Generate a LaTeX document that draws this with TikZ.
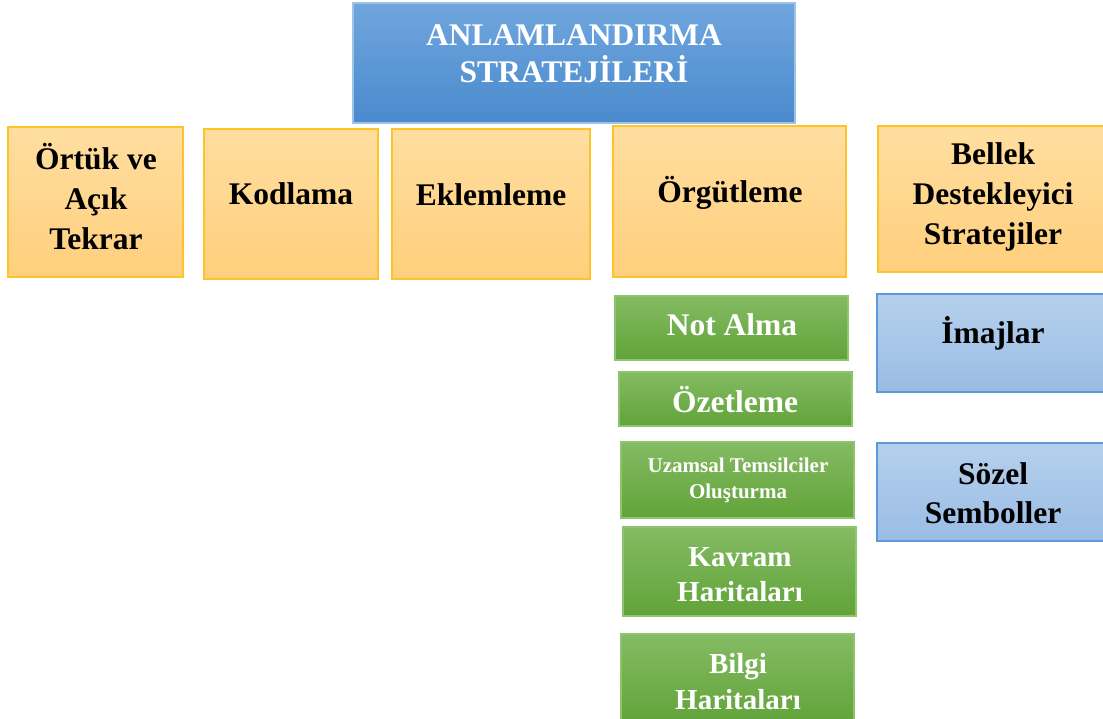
\documentclass[tikz,border=0pt]{standalone}
\usepackage{fontspec}
\setmainfont{Liberation Serif}
\definecolor{tTop}{HTML}{70A6DE}
\definecolor{tBot}{HTML}{4A8ACD}
\definecolor{tLine}{HTML}{9DC3E6}
\definecolor{oTop}{HTML}{FFDEA0}
\definecolor{oBot}{HTML}{FFCF7C}
\definecolor{oLine}{HTML}{FFC32A}
\definecolor{gTop}{HTML}{84BB63}
\definecolor{gBot}{HTML}{61A339}
\definecolor{gLine}{HTML}{8DC56C}
\definecolor{bTop}{HTML}{B5D0EC}
\definecolor{bBot}{HTML}{9ABCE5}
\definecolor{bLine}{HTML}{5B9BD5}
\tikzset{
  boxbase/.style={rectangle, inner sep=0pt, line width=1.3pt},
  titlebox/.style={boxbase, draw=tLine, top color=tTop, bottom color=tBot},
  orangebox/.style={boxbase, draw=oLine, top color=oTop, bottom color=oBot},
  greenbox/.style={boxbase, draw=gLine, top color=gTop, bottom color=gBot},
  bluebox/.style={boxbase, draw=bLine, top color=bTop, bottom color=bBot},
  lbl/.style={inner sep=0pt, align=center, font=\bfseries\fontsize{31.5}{40}\selectfont},
  wlbl/.style={lbl, text=white},
}
\begin{document}
\begin{tikzpicture}[x=1pt,y={(0pt,-1pt)}]
\useasboundingbox (0,0) rectangle (1103,719);
% boxes
\node[titlebox, minimum width=442pt, minimum height=120pt] (title) at (574,63) {};
\node[orangebox, minimum width=175pt, minimum height=150pt] (ortuk) at (95.5,202) {};
\node[orangebox, minimum width=174pt, minimum height=150pt] (kod) at (291,204) {};
\node[orangebox, minimum width=198pt, minimum height=150pt] (ekl) at (491,204) {};
\node[orangebox, minimum width=233pt, minimum height=151pt] (org) at (729.5,201.5) {};
\node[orangebox, minimum width=230pt, minimum height=146pt] (bel) at (993,199) {};
\node[greenbox, minimum width=233pt, minimum height=64pt] (not) at (731.5,328) {};
\node[greenbox, minimum width=233pt, minimum height=54pt] (ozet) at (735.5,399) {};
\node[greenbox, minimum width=233pt, minimum height=76pt] (uzam) at (737.5,480) {};
\node[greenbox, minimum width=233pt, minimum height=89pt] (kav) at (739.5,571.5) {};
\node[greenbox, minimum width=233pt, minimum height=90pt] (bil) at (737.5,679) {};
\node[bluebox, minimum width=231pt, minimum height=98pt] (ima) at (992.5,343) {};
\node[bluebox, minimum width=231pt, minimum height=98pt] (soz) at (992.5,492) {};
% texts
\node[wlbl, font=\bfseries\fontsize{31.5}{37}\selectfont] (titleT) at (574,54) {ANLAMLANDIRMA\\STRATEJİLERİ};
\node[lbl] (ortukT) at (96,197) {Örtük ve\\Açık\\Tekrar};
\node[lbl] (kodT) at (291,194) {Kodlama};
\node[lbl] (eklT) at (491,195) {Eklemleme};
\node[lbl] (orgT) at (730,193) {Örgütleme};
\node[lbl] (belT) at (993,197) {Bellek\\Destekleyici\\Stratejiler};
\node[wlbl] (notT) at (732,325) {Not Alma};
\node[wlbl] (ozetT) at (735,400) {Özetleme};
\node[wlbl, font=\bfseries\fontsize{21}{26}\selectfont] (uzamT) at (738,480) {Uzamsal Temsilciler\\Oluşturma};
\node[wlbl, font=\bfseries\fontsize{29}{35}\selectfont] (kavT) at (740,575) {Kavram\\Haritaları};
\node[wlbl, font=\bfseries\fontsize{29}{36}\selectfont] (bilT) at (738,682) {Bilgi\\Haritaları};
\node[lbl] (imaT) at (993,333) {İmajlar};
\node[lbl, font=\bfseries\fontsize{31.5}{39}\selectfont] (sozT) at (993,493) {Sözel\\Semboller};
\end{tikzpicture}
\end{document}
